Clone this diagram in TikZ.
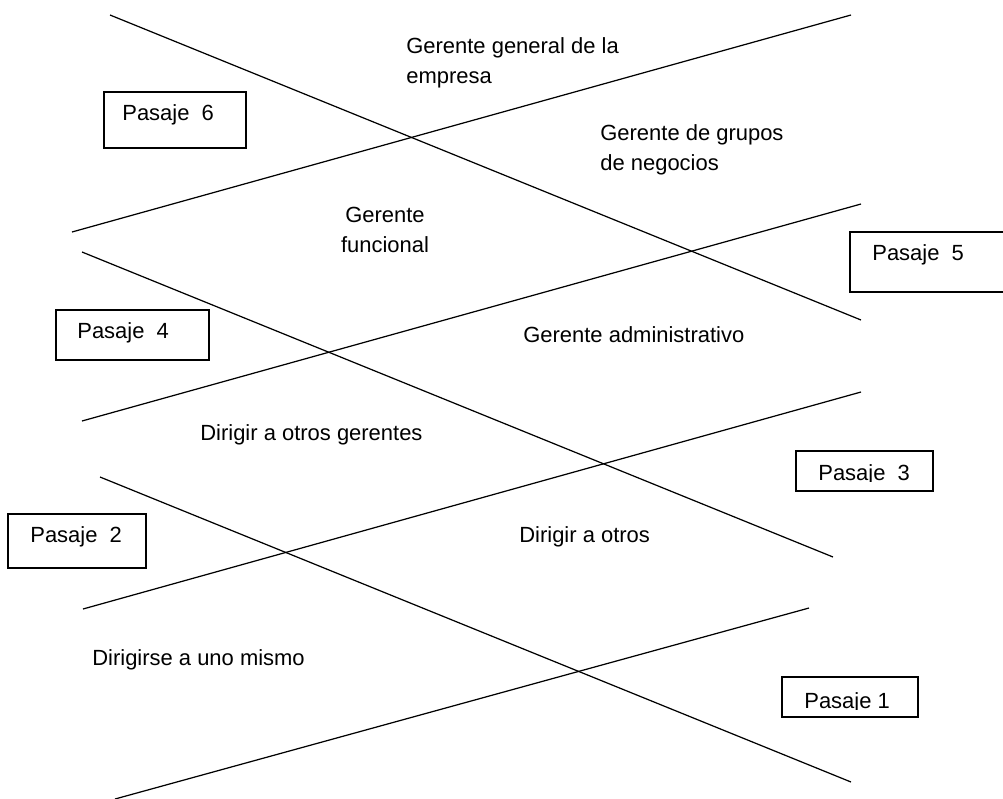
\documentclass[tikz,border=0pt]{standalone}
\usepackage{fontspec}
\setmainfont{Liberation Sans}
\usepackage{tikz}
\usetikzlibrary{positioning}

\tikzset{
    caja/.style={draw, line width=1pt, inner sep=0pt},
    texto/.style={inner sep=0pt, font=\fontsize{12.5}{17}\selectfont},
    raya/.style={line width=0.7pt}
}

\begin{document}
\begin{tikzpicture}[x=0.02cm, y=-0.02cm]
    \useasboundingbox (0,0) rectangle (1003,798);
    \clip (0,0) rectangle (1003,798);
    % lineas
    \draw[raya] (110,15) -- (861,320);
    \draw[raya] (72,232) -- (851,15);
    \draw[raya] (82,252) -- (833,557);
    \draw[raya] (82,421) -- (861,204);
    \draw[raya] (100,477) -- (851,782);
    \draw[raya] (83,609) -- (861,392);
    \draw[raya] (115,799) -- (809,608);
    % pasajes
    \node[caja, minimum width=2.84cm, minimum height=1.12cm] (c6) at (175,120) {};
    \node[texto, anchor=west] (p6) at (122,115) {Pasaje\ \ 6};
    \node[caja, minimum width=3.2cm, minimum height=1.2cm] (c5) at (930,262) {};
    \node[texto, anchor=west] (p5) at (872,255) {Pasaje\ \ 5};
    \node[caja, minimum width=3.06cm, minimum height=1.0cm] (c4) at (132.5,335) {};
    \node[texto, anchor=west] (p4) at (77,333) {Pasaje\ \ 4};
    \node[caja, minimum width=2.74cm, minimum height=0.8cm] (c3) at (864.5,471) {};
    \begin{scope}
        \clip (c3.north west) rectangle (933,481);
        \node[texto, anchor=base west] (p3) at (818,480) {Pasaje\ \ 3};
    \end{scope}
    \node[caja, minimum width=2.76cm, minimum height=1.08cm] (c2) at (77,541) {};
    \node[texto, anchor=west] (p2) at (30,537) {Pasaje\ \ 2};
    \node[caja, minimum width=2.72cm, minimum height=0.8cm] (c1) at (850,697) {};
    \begin{scope}
        \clip (c1.north west) rectangle (918,709);
        \node[texto, anchor=base west] (p1) at (804,708) {Pasaje 1};
    \end{scope}
    % niveles
    \node[texto, anchor=north west, align=left] (g1) at (406,37) {Gerente general de la\\empresa};
    \node[texto, anchor=north west, align=left] (g2) at (600,124) {Gerente de grupos\\de negocios};
    \node[texto, anchor=north, align=center] (g3) at (385,207) {Gerente\\funcional};
    \node[texto, anchor=west] (g4) at (523,335) {Gerente administrativo};
    \node[texto, anchor=west] (d1) at (200,435) {Dirigir a otros gerentes};
    \node[texto, anchor=west] (d2) at (519,537) {Dirigir a otros};
    \node[texto, anchor=west] (d3) at (92,660) {Dirigirse a uno mismo};
\end{tikzpicture}
\end{document}
